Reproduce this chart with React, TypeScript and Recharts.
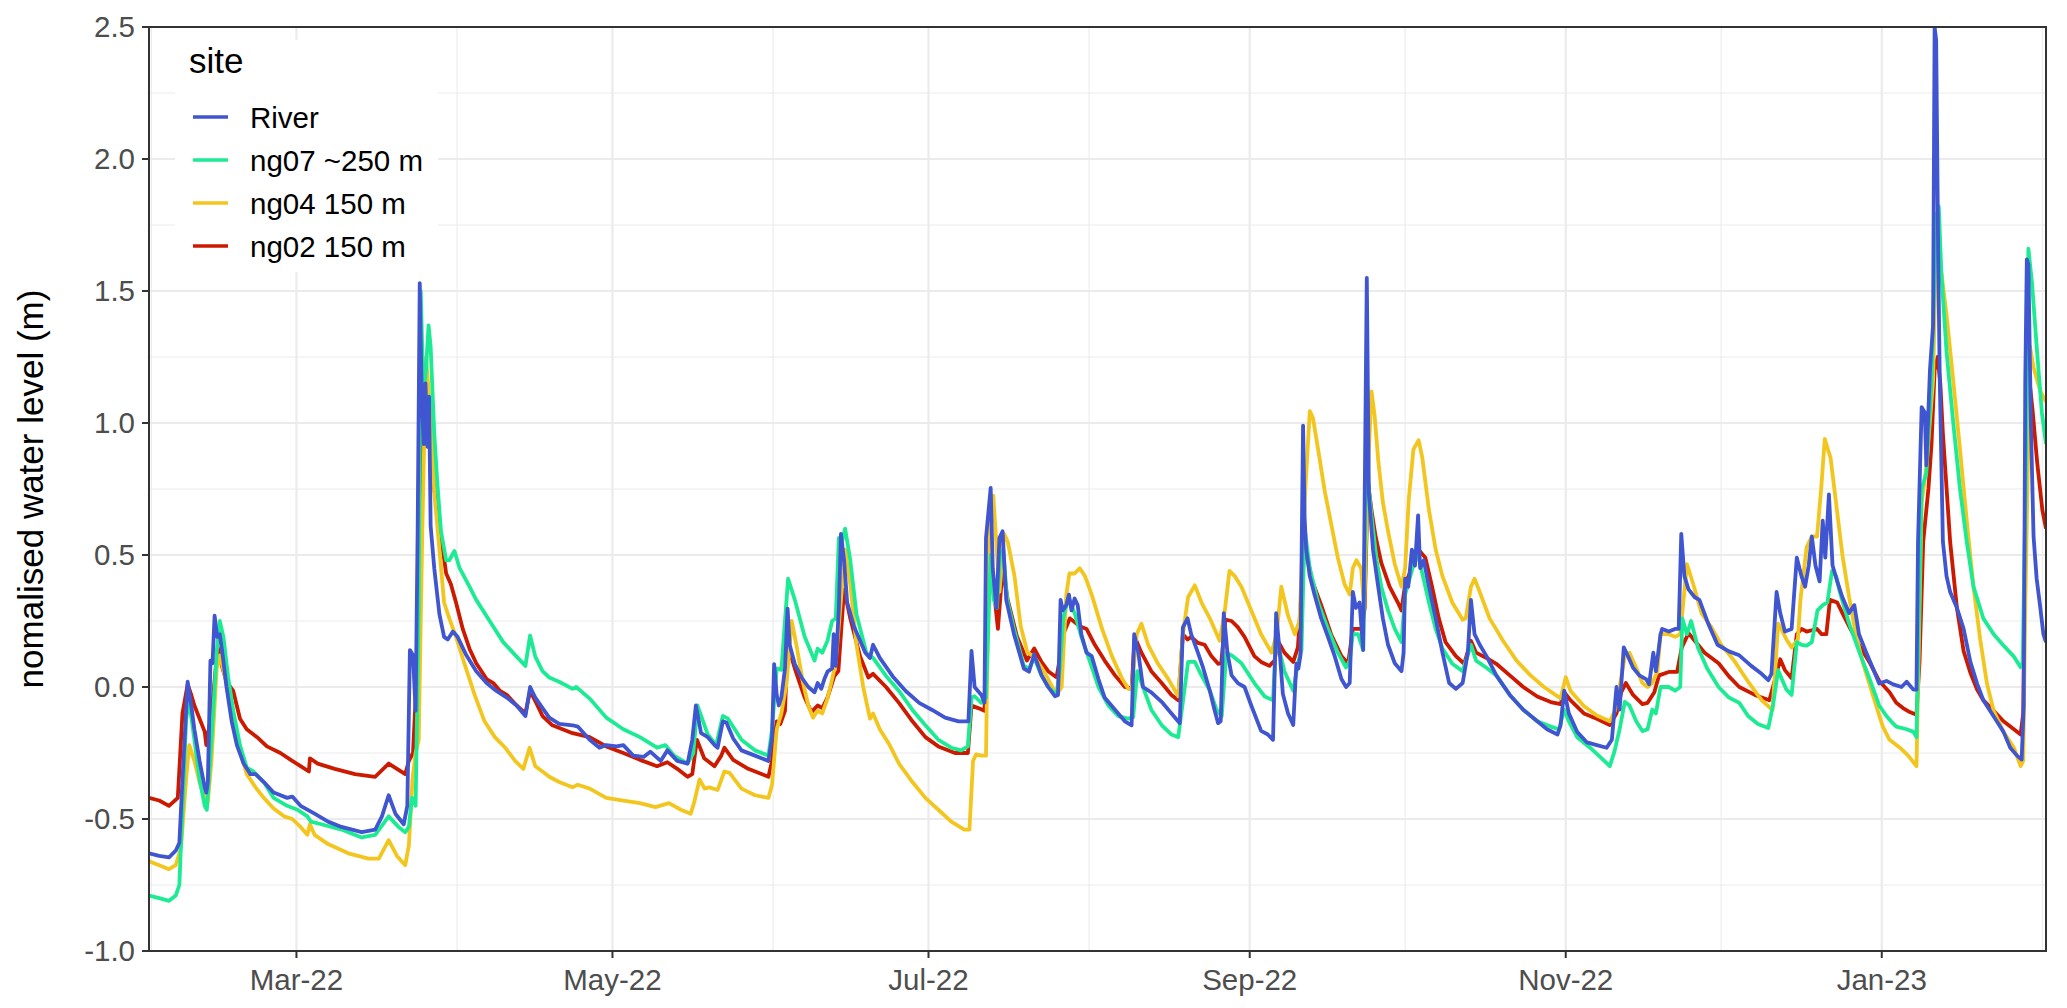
import React from 'react';
import { LineChart, Line, XAxis, YAxis, CartesianGrid } from 'recharts';

const FONT = '"Liberation Sans", Arial, Helvetica, sans-serif';

// x values are days since 1 Feb 2022
const monthTicks = [28, 89, 150, 212, 273, 334];
const monthLabels = ['Mar-22', 'May-22', 'Jul-22', 'Sep-22', 'Nov-22', 'Jan-23'];
const minorMonths = [0, 59, 120, 181, 242, 303, 365];
const levelTicks = [-1, -0.5, 0, 0.5, 1, 1.5, 2, 2.5];
const minorLevels = [-0.75, -0.25, 0.25, 0.75, 1.25, 1.75, 2.25];

const siteNames = ['River', 'ng07 ~250 m', 'ng04 150 m', 'ng02 150 m'];
const siteColors = ['#4055D0', '#1DEB94', '#F2C61F', '#CC1A00'];

const river: [number, number][] = [
  [-0.46,-0.63],[1.5,-0.64],[3.4,-0.645],[4.7,-0.62],[5.4,-0.59],[6.0,-0.35],[7.0,0.02],[7.7,-0.07],[8.3,-0.16],[9.3,-0.28],[10.3,-0.38],[10.6,-0.40],[10.9,-0.36],[11.4,0.10],[11.8,0.09],[12.2,0.27],[12.7,0.19],[13.2,0.20],[13.7,0.13],[14.5,0.0],[15.5,-0.13],[16.5,-0.22],[17.8,-0.29],[19.1,-0.33],[20.1,-0.33],[21.7,-0.36],[23.6,-0.40],[26.2,-0.42],[27.2,-0.415],[28.8,-0.45],[31.5,-0.48],[34.1,-0.51],[36.7,-0.53],[40.6,-0.55],[43.2,-0.54],[44.5,-0.49],[45.8,-0.41],[47.1,-0.48],[48.7,-0.52],[49.4,-0.45],[49.9,0.14],[50.5,0.12],[51.0,-0.09],[51.4,0.6],[51.8,1.53],[52.1,1.2],[52.3,1.03],[52.6,0.92],[52.9,1.15],[53.3,0.91],[53.6,1.10],[53.9,0.61],[54.6,0.45],[55.6,0.275],[56.5,0.19],[57.2,0.18],[58.2,0.21],[59.1,0.19],[60.8,0.12],[62.7,0.06],[64.7,0.015],[66.6,-0.015],[68.6,-0.04],[70.5,-0.07],[72.2,-0.11],[73.1,0.0],[74.1,-0.04],[75.5,-0.08],
  [76.8,-0.116],[78.7,-0.14],[81.3,-0.145],[82.3,-0.15],[84.6,-0.20],[86.5,-0.23],[87.8,-0.22],[89.8,-0.225],[91.1,-0.22],[93.0,-0.26],[95.0,-0.265],[96.3,-0.245],[98.3,-0.28],[99.6,-0.24],[101.5,-0.28],[103.5,-0.29],[104.4,-0.20],[105.1,-0.07],[106.1,-0.175],[107.4,-0.19],[108.7,-0.22],[109.3,-0.23],[110.3,-0.13],[111.0,-0.135],[112.3,-0.195],[113.9,-0.24],[116.5,-0.26],[119.1,-0.28],[119.8,-0.19],[120.2,0.087],[120.7,-0.03],[121.1,-0.07],[121.6,-0.04],[122.3,0.07],[122.8,0.297],[123.2,0.16],[124.2,0.087],[125.5,0.036],[126.8,0.0],[128.0,-0.02],[128.6,0.015],[129.3,-0.007],[129.9,0.03],[130.5,0.058],[131.4,0.07],[131.7,0.20],[132.1,0.08],[132.7,0.30],[133.1,0.58],[133.7,0.48],[134.3,0.32],[135.6,0.23],[136.8,0.175],[137.8,0.13],[138.7,0.11],[139.3,0.16],[140.6,0.11],[143.1,0.04],[145.6,-0.015],[148.2,-0.06],[150.7,-0.087],[153.2,-0.116],[155.8,-0.13],[157.7,-0.13],[158.3,0.137],[158.9,0.0],[160.2,-0.03],[160.8,-0.06],[161.1,0.565],[162.0,0.754],[162.4,0.45],[163.1,0.30],[163.7,0.565],[164.3,0.59],[165.0,0.33],[166.5,0.20],[168.4,0.07],[169.4,0.058],
  [170.4,0.124],[171.8,0.045],[173.1,0.0],[174.4,-0.035],[175.0,-0.03],[175.5,0.33],[175.9,0.29],[176.6,0.31],[177.1,0.35],[177.6,0.29],[178.2,0.335],[178.8,0.31],[179.5,0.20],[180.5,0.13],[181.5,0.117],[182.8,0.03],[184.0,-0.04],[186.0,-0.086],[187.9,-0.13],[189.2,-0.145],[189.7,0.20],[190.5,0.13],[191.4,0.0],[193.0,-0.02],[195.0,-0.056],[196.9,-0.10],[198.5,-0.137],[199.1,0.226],[200.0,0.26],[200.7,0.20],[202.0,0.13],[203.0,0.073],[204.3,-0.014],[205.2,-0.086],[205.9,-0.137],[206.4,-0.13],[207.0,0.28],[207.7,0.13],[208.5,0.044],[209.7,0.015],[211.0,0.0],[212.3,-0.07],[214.2,-0.166],[215.5,-0.18],[216.5,-0.20],[217.1,0.28],[217.8,0.13],[218.4,-0.026],[219.4,-0.10],[220.4,-0.144],[221.0,0.088],[221.4,0.07],[221.8,0.12],[222.3,0.99],[222.6,0.64],[222.9,0.52],[223.6,0.42],[224.5,0.35],[225.8,0.26],[227.1,0.19],[228.4,0.117],[229.7,0.03],[230.6,0.0],[231.3,0.015],[231.9,0.36],[232.5,0.30],[233.2,0.32],[233.9,0.14],[234.3,0.93],[234.6,1.55],[235.0,0.73],[235.8,0.52],[236.8,0.38],[237.7,0.26],[238.7,0.16],
  [240.0,0.09],[241.3,0.06],[241.7,0.13],[242.0,0.41],[242.6,0.38],[243.3,0.52],[243.9,0.46],[244.5,0.65],[244.9,0.45],[245.6,0.48],[246.6,0.38],[247.9,0.26],[249.2,0.13],[250.5,0.015],[251.8,-0.007],[253.1,0.015],[254.1,0.13],[254.7,0.33],[255.4,0.20],[256.4,0.16],[257.7,0.117],[259.6,0.044],[262.2,-0.03],[264.8,-0.086],[267.5,-0.13],[269.4,-0.16],[271.4,-0.18],[272.0,-0.145],[272.7,-0.014],[273.6,-0.10],[275.2,-0.17],[277.1,-0.21],[279.0,-0.22],[280.9,-0.23],[281.9,-0.20],[282.8,0.0],[283.4,-0.086],[284.2,0.15],[285.0,0.117],[286.0,0.073],[287.2,0.044],[288.5,0.03],[289.1,0.01],[289.9,0.13],[290.4,0.06],[291.3,0.20],[291.6,0.22],[292.9,0.21],[294.1,0.22],[294.8,0.22],[295.3,0.58],[295.9,0.42],[296.7,0.37],[297.9,0.34],[298.8,0.33],[300.5,0.24],[302.3,0.16],
  [304.5,0.135],[306.5,0.12],[308.8,0.08],[310.8,0.05],[312.1,0.026],[312.7,0.05],[313.7,0.36],[314.4,0.28],[315.3,0.21],[316.6,0.22],[317.6,0.49],[318.5,0.42],[319.2,0.38],[319.9,0.46],[320.5,0.57],[321.2,0.46],[322.0,0.40],[322.6,0.63],[323.1,0.49],[323.8,0.73],[324.5,0.46],[325.4,0.40],[326.4,0.34],[327.7,0.28],[328.7,0.31],[329.6,0.20],[330.9,0.136],[332.2,0.075],[333.5,0.013],[334.9,0.023],[336.2,0.01],[337.8,0.0],[338.8,0.02],[340.1,-0.01],[340.7,-0.01],[341.0,0.55],[341.7,1.06],[342.3,1.04],[342.6,0.84],[343.3,1.2],[343.9,1.37],[344.2,2.5],[344.5,2.45],[344.9,1.62],[345.2,1.16],[345.8,0.55],[346.5,0.42],[347.2,0.36],[348.5,0.30],[349.8,0.22],[351.1,0.095],[352.4,0.013],[353.6,-0.05],[354.9,-0.09],[356.2,-0.13],[357.5,-0.17],[358.8,-0.23],[360.1,-0.26],[361.0,-0.275],[361.4,-0.07],[361.7,1.16],[362.0,1.62],[362.3,1.60],[362.8,0.98],[363.3,0.57],[363.9,0.41],[364.6,0.30],[365.2,0.20],[365.7,0.17],
];

const ng07: [number, number][] = [
  [-0.46,-0.79],[1.5,-0.80],[3.4,-0.81],[4.7,-0.79],[5.4,-0.75],[6.0,-0.46],[6.7,-0.13],[7.2,-0.04],[8.3,-0.20],[9.3,-0.35],[10.3,-0.45],[10.7,-0.465],[11.6,-0.20],[12.6,0.13],[13.2,0.25],[13.9,0.19],[14.8,0.04],[15.8,-0.09],[17.1,-0.22],[18.4,-0.305],[19.7,-0.32],[21.7,-0.36],[23.6,-0.42],[26.2,-0.45],[28.2,-0.465],[30.1,-0.49],[30.8,-0.51],[32.8,-0.52],[36.7,-0.54],[40.6,-0.57],[43.2,-0.56],[45.8,-0.49],[47.7,-0.53],[49.0,-0.55],[49.7,-0.53],[50.3,-0.42],[51.0,-0.45],[51.6,0.3],[52.0,1.5],[52.5,1.1],[53.0,1.2],[53.5,1.37],[53.9,1.29],[54.6,0.96],[55.2,0.77],[55.9,0.59],[56.9,0.48],[57.5,0.48],[58.5,0.515],[59.5,0.45],[61.4,0.38],[62.7,0.33],[65.3,0.25],[67.9,0.17],[70.5,0.115],[72.2,0.08],[73.1,0.195],[74.1,0.115],[75.5,0.06],
  [76.8,0.036],[78.7,0.02],[81.3,-0.007],[82.0,0.0],[84.6,-0.044],[87.8,-0.116],[91.1,-0.16],[94.3,-0.19],[97.6,-0.23],[99.2,-0.22],[100.9,-0.26],[103.5,-0.29],[104.6,-0.25],[105.4,-0.07],[107.4,-0.18],[109.0,-0.22],[110.3,-0.11],[111.3,-0.12],[113.9,-0.20],[116.5,-0.24],[119.1,-0.26],[119.8,-0.16],[120.7,0.07],[121.6,0.065],[122.9,0.41],[124.2,0.33],[126.1,0.19],[128.0,0.10],[128.6,0.145],[129.5,0.13],[130.5,0.175],[131.4,0.25],[132.1,0.26],[132.7,0.565],[133.3,0.55],[133.9,0.60],[134.9,0.48],[136.1,0.275],[138.0,0.13],[139.3,0.11],[141.8,0.042],[144.3,-0.015],[146.9,-0.087],[149.4,-0.145],[151.9,-0.20],[154.4,-0.23],[156.3,-0.24],[157.6,-0.225],[158.3,-0.04],[158.9,-0.035],[160.2,-0.06],[161.1,-0.04],[162.0,0.5],[162.6,0.33],[163.2,0.30],[163.8,0.50],[164.4,0.52],[165.2,0.33],[166.5,0.22],[168.4,0.08],[169.4,0.07],
  [170.4,0.11],[171.8,0.044],[173.1,0.0],[174.7,-0.03],[175.3,0.06],[176.0,0.26],[177.0,0.34],[178.2,0.28],[179.5,0.19],[180.8,0.117],[182.8,0.0],[184.7,-0.07],[186.6,-0.11],[188.5,-0.12],[189.5,-0.115],[190.3,0.06],[191.4,0.0],[193.0,-0.086],[195.0,-0.144],[196.9,-0.18],[198.2,-0.19],[199.1,-0.056],[200.1,0.095],[201.4,0.095],[202.7,0.044],[204.3,-0.014],[205.6,-0.086],[206.6,-0.11],[207.5,0.13],[208.5,0.12],[210.4,0.09],[212.9,0.015],[214.9,-0.036],[216.5,-0.05],[217.1,0.19],[218.7,0.06],[220.4,-0.014],[221.3,0.09],[222.0,0.14],[222.6,0.60],[223.6,0.45],[225.2,0.32],[227.1,0.22],[229.0,0.13],[230.6,0.074],[231.3,0.10],[231.9,0.20],[232.9,0.20],[233.9,0.14],[234.5,0.85],[235.5,0.65],[236.5,0.48],[237.4,0.38],[238.7,0.29],
  [240.0,0.22],[241.3,0.17],[242.0,0.35],[243.3,0.44],[244.3,0.51],[245.2,0.44],[246.6,0.32],[247.9,0.22],[249.2,0.146],[251.1,0.088],[253.1,0.06],[254.7,0.16],[255.7,0.10],[257.7,0.073],[259.6,0.044],[262.2,-0.03],[264.8,-0.086],[267.5,-0.13],[270.1,-0.15],[271.7,-0.16],[272.7,-0.086],[273.6,-0.13],[275.2,-0.19],[277.7,-0.23],[280.2,-0.275],[281.5,-0.30],[282.4,-0.245],[283.4,-0.16],[284.4,-0.056],[285.3,-0.07],[286.6,-0.13],[287.8,-0.167],[288.8,-0.16],[289.7,-0.086],[290.4,-0.10],[291.3,0.0],[292.9,0.0],[294.1,-0.014],[295.1,0.0],[295.5,0.26],[296.4,0.20],[297.2,0.25],[298.5,0.15],[300.3,0.07],[302.5,0.0],
  [304.5,-0.04],[306.5,-0.06],[308.2,-0.11],[310.1,-0.14],[312.1,-0.155],[313.0,-0.07],[314.0,0.064],[314.7,0.03],[315.6,-0.01],[316.6,-0.03],[317.6,0.17],[318.5,0.16],[319.5,0.157],[320.5,0.17],[321.6,0.29],[322.6,0.31],[323.5,0.32],[324.4,0.44],[325.2,0.42],[325.9,0.36],[327.7,0.24],[329.6,0.136],[331.6,0.033],[333.5,-0.07],[334.9,-0.11],[335.8,-0.13],[336.8,-0.15],[338.8,-0.16],[340.1,-0.17],[340.7,-0.19],[341.1,0.2],[341.7,0.75],[342.6,0.81],[343.6,1.16],[344.5,1.78],[345.0,1.82],[345.5,1.57],[346.5,1.27],[347.8,1.0],[349.1,0.75],[350.4,0.55],[351.7,0.38],[353.6,0.26],[355.6,0.20],[357.5,0.157],[359.5,0.115],[360.8,0.075],[361.2,0.09],[361.8,0.8],[362.3,1.66],[363.0,1.53],[363.9,1.29],[364.9,1.04],[365.7,0.92],
];

const ng04: [number, number][] = [
  [-0.46,-0.66],[1.5,-0.675],[3.4,-0.69],[4.7,-0.675],[5.7,-0.61],[6.7,-0.35],[7.3,-0.22],[8.3,-0.28],[9.3,-0.36],[10.3,-0.42],[10.9,-0.435],[11.6,-0.28],[12.6,0.07],[13.2,0.12],[14.2,0.04],[15.2,-0.07],[16.5,-0.20],[18.4,-0.33],[20.1,-0.38],[21.7,-0.42],[23.6,-0.46],[25.6,-0.49],[27.2,-0.50],[28.8,-0.53],[30.1,-0.56],[30.6,-0.52],[31.5,-0.56],[34.1,-0.595],[38.0,-0.63],[41.9,-0.65],[43.9,-0.65],[45.8,-0.58],[47.4,-0.64],[49.0,-0.675],[49.7,-0.60],[50.4,-0.35],[51.0,-0.25],[51.6,-0.20],[52.3,0.6],[53.0,1.25],[53.9,1.03],[54.6,0.74],[55.6,0.52],[56.5,0.32],[57.5,0.26],[58.8,0.19],[60.4,0.09],[62.4,-0.03],[64.3,-0.13],[66.3,-0.19],[68.3,-0.23],[70.2,-0.28],[71.8,-0.31],[73.0,-0.23],[74.1,-0.30],[75.5,-0.32],
  [76.8,-0.34],[78.7,-0.36],[81.3,-0.38],[82.3,-0.37],[84.6,-0.385],[87.8,-0.42],[91.1,-0.43],[94.3,-0.44],[97.3,-0.455],[99.9,-0.44],[102.2,-0.465],[104.1,-0.48],[104.8,-0.435],[105.8,-0.35],[106.8,-0.385],[107.7,-0.38],[109.3,-0.39],[110.6,-0.32],[111.6,-0.325],[113.9,-0.385],[116.5,-0.41],[119.1,-0.42],[119.8,-0.37],[120.7,-0.16],[121.6,-0.10],[122.6,0.014],[123.6,0.25],[124.5,0.16],[125.8,0.014],[126.8,-0.07],[127.7,-0.116],[128.6,-0.09],[129.5,-0.10],[130.5,-0.044],[131.4,0.03],[132.1,0.094],[133.1,0.33],[133.9,0.52],[134.9,0.39],[136.1,0.16],[137.4,0.0],[138.7,-0.12],[139.3,-0.10],[140.6,-0.16],[142.5,-0.22],[144.3,-0.29],[146.9,-0.36],[149.4,-0.42],[151.9,-0.465],[154.4,-0.51],[156.9,-0.54],[157.9,-0.54],[158.6,-0.28],[159.2,-0.255],[160.2,-0.26],[161.1,-0.26],[161.7,0.59],[162.5,0.725],[163.7,0.36],[164.6,0.58],[165.3,0.55],[166.6,0.42],[167.8,0.23],[169.1,0.13],
  [170.4,0.115],[171.8,0.074],[173.1,0.03],[174.7,-0.03],[175.7,0.0],[176.6,0.35],[177.2,0.43],[178.2,0.43],[179.2,0.45],[180.2,0.42],[181.5,0.35],[183.5,0.22],[185.4,0.117],[187.4,0.03],[188.6,-0.007],[189.2,-0.01],[190.2,0.2],[191.1,0.24],[192.4,0.16],[194.3,0.088],[196.3,0.03],[198.2,-0.035],[199.1,0.20],[200.1,0.34],[201.4,0.385],[202.7,0.32],[204.3,0.26],[206.2,0.175],[207.2,0.29],[208.1,0.44],[209.1,0.42],[210.4,0.38],[212.3,0.29],[214.2,0.20],[216.2,0.13],[217.2,0.2],[218.1,0.38],[219.4,0.27],[220.7,0.20],[221.6,0.25],[222.6,0.7],[223.6,1.045],[224.2,1.02],[225.2,0.90],[226.5,0.74],[227.8,0.61],[229.0,0.49],[230.3,0.39],[231.3,0.35],[231.9,0.45],[232.6,0.48],[233.5,0.45],[234.1,0.3],[234.8,0.8],[235.5,1.12],[236.1,1.03],[236.8,0.86],[237.7,0.70],[238.7,0.59],
  [240.0,0.465],[241.3,0.38],[242.0,0.45],[242.7,0.71],[243.6,0.90],[244.6,0.935],[245.3,0.87],[246.6,0.67],[247.9,0.52],[249.2,0.42],[251.1,0.32],[253.1,0.255],[253.7,0.26],[254.7,0.38],[255.4,0.41],[256.4,0.36],[258.3,0.26],[260.9,0.175],[263.5,0.10],[266.2,0.044],[268.8,0.0],[272.0,-0.043],[273.0,0.037],[273.9,-0.014],[276.5,-0.072],[279.0,-0.108],[281.5,-0.13],[282.5,-0.09],[283.4,0.0],[284.4,0.117],[285.3,0.13],[286.6,0.073],[287.8,0.015],[288.8,0.0],[289.7,0.015],[290.7,0.06],[291.3,0.20],[292.9,0.20],[294.1,0.19],[295.1,0.20],[296.4,0.465],[297.6,0.39],[299.2,0.28],[301.0,0.23],
  [303.0,0.16],[305.5,0.10],[308.2,0.02],[310.8,-0.05],[312.9,-0.087],[313.4,0.054],[314.0,0.24],[314.6,0.22],[315.6,0.18],[316.6,0.15],[317.8,0.18],[318.3,0.33],[319.5,0.53],[320.5,0.57],[321.5,0.57],[322.3,0.75],[323.0,0.94],[323.6,0.90],[324.1,0.87],[325.1,0.71],[326.4,0.50],[327.7,0.34],[329.0,0.20],[330.3,0.095],[331.6,0.013],[332.9,-0.07],[334.2,-0.15],[335.5,-0.20],[337.5,-0.23],[339.1,-0.26],[340.7,-0.30],[341.1,0.1],[341.7,0.7],[342.6,0.83],[343.9,1.16],[344.5,1.68],[345.2,1.62],[346.5,1.41],[347.8,1.16],[349.1,0.90],[350.4,0.63],[351.7,0.38],[353.0,0.18],[354.3,0.013],[355.6,-0.09],[357.5,-0.17],[359.5,-0.23],[360.8,-0.30],[361.3,-0.28],[361.7,0.3],[362.6,1.29],[363.3,1.21],[364.6,1.12],[365.7,1.08],
];

const ng02: [number, number][] = [
  [-0.46,-0.42],[1.5,-0.43],[3.4,-0.45],[5.1,-0.42],[6.0,-0.1],[7.0,0.01],[7.7,-0.03],[8.3,-0.07],[9.3,-0.12],[10.3,-0.17],[10.6,-0.22],[11.6,-0.10],[12.8,0.15],[13.6,0.08],[14.5,0.02],[15.8,-0.015],[17.1,-0.12],[18.4,-0.16],[20.4,-0.19],[22.3,-0.225],[24.9,-0.25],[26.9,-0.276],[28.8,-0.30],[30.4,-0.32],[30.6,-0.27],[32.1,-0.29],[35.4,-0.31],[39.3,-0.33],[43.2,-0.34],[45.8,-0.29],[49.0,-0.33],[49.7,-0.28],[50.5,-0.25],[51.6,0.2],[52.4,1.19],[53.0,1.13],[53.6,1.0],[54.6,0.75],[55.9,0.57],[56.9,0.43],[57.8,0.39],[58.8,0.32],[60.1,0.22],[61.4,0.145],[62.7,0.09],[64.7,0.03],[66.0,0.015],[67.3,-0.015],[68.6,-0.03],[70.5,-0.07],[72.2,-0.10],[73.1,-0.015],[74.4,-0.065],[75.5,-0.11],
  [77.4,-0.145],[81.3,-0.175],[84.6,-0.19],[87.8,-0.225],[91.1,-0.25],[94.3,-0.276],[97.6,-0.30],[99.6,-0.285],[101.5,-0.31],[103.5,-0.34],[104.4,-0.33],[105.3,-0.20],[106.7,-0.27],[108.7,-0.30],[110.0,-0.26],[110.6,-0.23],[112.3,-0.276],[115.2,-0.31],[119.1,-0.34],[119.8,-0.28],[120.7,-0.13],[121.4,-0.14],[122.3,-0.09],[122.8,0.16],[124.2,0.07],[126.1,-0.04],[127.4,-0.095],[128.6,-0.07],[129.5,-0.08],[130.5,-0.04],[131.8,0.04],[132.6,0.06],[133.7,0.37],[134.9,0.26],[136.8,0.116],[138.4,0.036],[139.3,0.05],[141.8,0.0],[144.3,-0.06],[146.9,-0.13],[149.4,-0.19],[151.9,-0.225],[155.1,-0.25],[157.6,-0.25],[158.3,-0.07],[159.6,-0.08],[160.8,-0.09],[161.7,0.48],[162.7,0.35],[163.4,0.22],[164.3,0.45],[165.3,0.33],[167.1,0.19],[169.0,0.10],
  [170.4,0.146],[171.8,0.095],[173.1,0.06],[174.7,0.037],[175.3,0.1],[176.0,0.2],[177.3,0.26],[179.2,0.23],[180.5,0.22],[182.1,0.16],[184.0,0.10],[186.0,0.044],[187.9,0.0],[189.2,-0.005],[189.8,0.19],[191.1,0.13],[193.0,0.06],[195.0,0.015],[196.9,-0.03],[198.2,-0.05],[199.1,0.2],[200.0,0.18],[200.7,0.19],[202.0,0.167],[203.3,0.16],[204.6,0.117],[205.9,0.088],[206.5,0.09],[207.3,0.255],[208.5,0.25],[209.7,0.227],[211.0,0.19],[212.9,0.117],[214.2,0.095],[215.8,0.08],[216.8,0.10],[217.4,0.175],[218.7,0.13],[220.4,0.095],[221.3,0.15],[222.3,0.45],[222.6,0.55],[223.9,0.41],[225.8,0.31],[227.7,0.20],[229.7,0.117],[231.0,0.088],[231.9,0.22],[233.6,0.22],[234.2,0.3],[234.8,0.78],[235.5,0.67],[236.3,0.57],[237.4,0.47],[239.0,0.38],
  [240.6,0.32],[241.3,0.29],[242.0,0.39],[243.3,0.45],[244.6,0.52],[245.9,0.49],[247.2,0.38],[248.5,0.26],[249.8,0.17],[251.8,0.117],[253.4,0.088],[254.7,0.175],[255.7,0.13],[257.7,0.11],[259.6,0.088],[262.2,0.044],[264.8,0.0],[267.5,-0.036],[270.1,-0.057],[272.0,-0.065],[272.7,-0.02],[273.9,-0.05],[276.5,-0.10],[279.0,-0.12],[281.5,-0.144],[282.8,-0.10],[283.7,-0.02],[284.6,0.015],[286.0,-0.03],[287.8,-0.065],[288.8,-0.06],[290.1,-0.02],[291.0,0.044],[292.9,0.057],[294.5,0.057],[295.4,0.15],[296.7,0.204],[297.9,0.175],[299.8,0.13],[302.5,0.09],
  [304.5,0.04],[306.5,0.0],[309.5,-0.03],[312.3,-0.05],[313.0,0.0],[314.4,0.105],[315.3,0.064],[316.6,0.033],[317.6,0.20],[318.5,0.22],[319.5,0.21],[320.5,0.215],[321.5,0.22],[322.4,0.20],[323.3,0.20],[324.0,0.33],[325.4,0.32],[326.4,0.28],[327.7,0.23],[329.6,0.16],[331.6,0.095],[333.5,0.023],[335.5,-0.02],[336.8,-0.06],[338.1,-0.08],[339.4,-0.095],[340.7,-0.105],[341.3,0.1],[342.0,0.55],[343.0,0.75],[343.6,0.92],[344.2,1.2],[344.8,1.25],[345.3,1.15],[345.8,0.96],[347.2,0.55],[348.5,0.30],[349.8,0.136],[351.1,0.054],[352.4,-0.01],[353.6,-0.05],[355.6,-0.09],[357.5,-0.13],[359.5,-0.16],[360.8,-0.18],[361.3,-0.1],[361.7,0.6],[362.3,1.2],[363.1,1.05],[364.0,0.85],[365.0,0.67],[365.7,0.6],
];

const toRows = (pts: [number, number][]) => pts.map(([d, v]) => ({ d, v }));

// drawing order: ng02 first, River on top
const drawOrder = [3, 2, 1, 0];
const seriesData = [river, ng07, ng04, ng02].map(toRows);

const tickLabel = (d: number) => monthLabels[monthTicks.indexOf(d)] ?? '';

const App: React.FC = () => {
  return (
    <div style={{ position: 'absolute', left: 0, top: 0, width: 2067, height: 1008, background: '#fff' }}>
      <LineChart width={2067} height={1008} margin={{ top: 27, right: 21, bottom: 0, left: 0 }}>
        <CartesianGrid stroke="#EBEBEB" strokeWidth={1.1} horizontalValues={minorLevels} verticalValues={minorMonths} />
        <CartesianGrid stroke="#EBEBEB" strokeWidth={2.2} />
        <XAxis
          dataKey="d"
          type="number"
          domain={[-0.46, 365.7]}
          ticks={monthTicks}
          interval={0}
          allowDataOverflow
          tickFormatter={tickLabel}
          height={57}
          tickSize={7}
          tickMargin={11}
          axisLine={false}
          tickLine={{ stroke: '#333333', strokeWidth: 2 }}
          tick={{ fill: '#4D4D4D', fontSize: 29.5, fontFamily: FONT }}
        />
        <YAxis
          type="number"
          domain={[-1, 2.5]}
          ticks={levelTicks}
          interval={0}
          allowDataOverflow
          tickFormatter={(v: number) => v.toFixed(1)}
          width={149}
          tickSize={7}
          tickMargin={7}
          axisLine={false}
          tickLine={{ stroke: '#333333', strokeWidth: 2 }}
          tick={{ fill: '#4D4D4D', fontSize: 29.5, fontFamily: FONT }}
        />
        {drawOrder.map((i) => (
          <Line
            key={siteNames[i]}
            data={seriesData[i]}
            dataKey="v"
            name={siteNames[i]}
            type="linear"
            stroke={siteColors[i]}
            strokeWidth={3.8}
            strokeLinejoin="round"
            dot={false}
            activeDot={false}
            isAnimationActive={false}
          />
        ))}
      </LineChart>
      <svg width={2067} height={1008} style={{ position: 'absolute', left: 0, top: 0, pointerEvents: 'none' }}>
        <rect x={149} y={27} width={1897} height={924} fill="none" stroke="#333333" strokeWidth={2} />
        <text
          transform="translate(43 489) rotate(-90)"
          textAnchor="middle"
          fontSize={35}
          fontFamily={FONT}
          fill="#000"
        >
          nomalised water level (m)
        </text>
        <rect x={175} y={40} width={263} height={232} fill="#fff" />
        <text x={189} y={73} fontSize={35} fontFamily={FONT} fill="#000">site</text>
        {siteNames.map((name, i) => (
          <g key={name}>
            <line x1={193} x2={228} y1={117 + 43 * i} y2={117 + 43 * i} stroke={siteColors[i]} strokeWidth={3.5} />
            <text x={250} y={127.5 + 43 * i} fontSize={29.5} fontFamily={FONT} fill="#000">{name}</text>
          </g>
        ))}
      </svg>
    </div>
  );
};

export default App;
